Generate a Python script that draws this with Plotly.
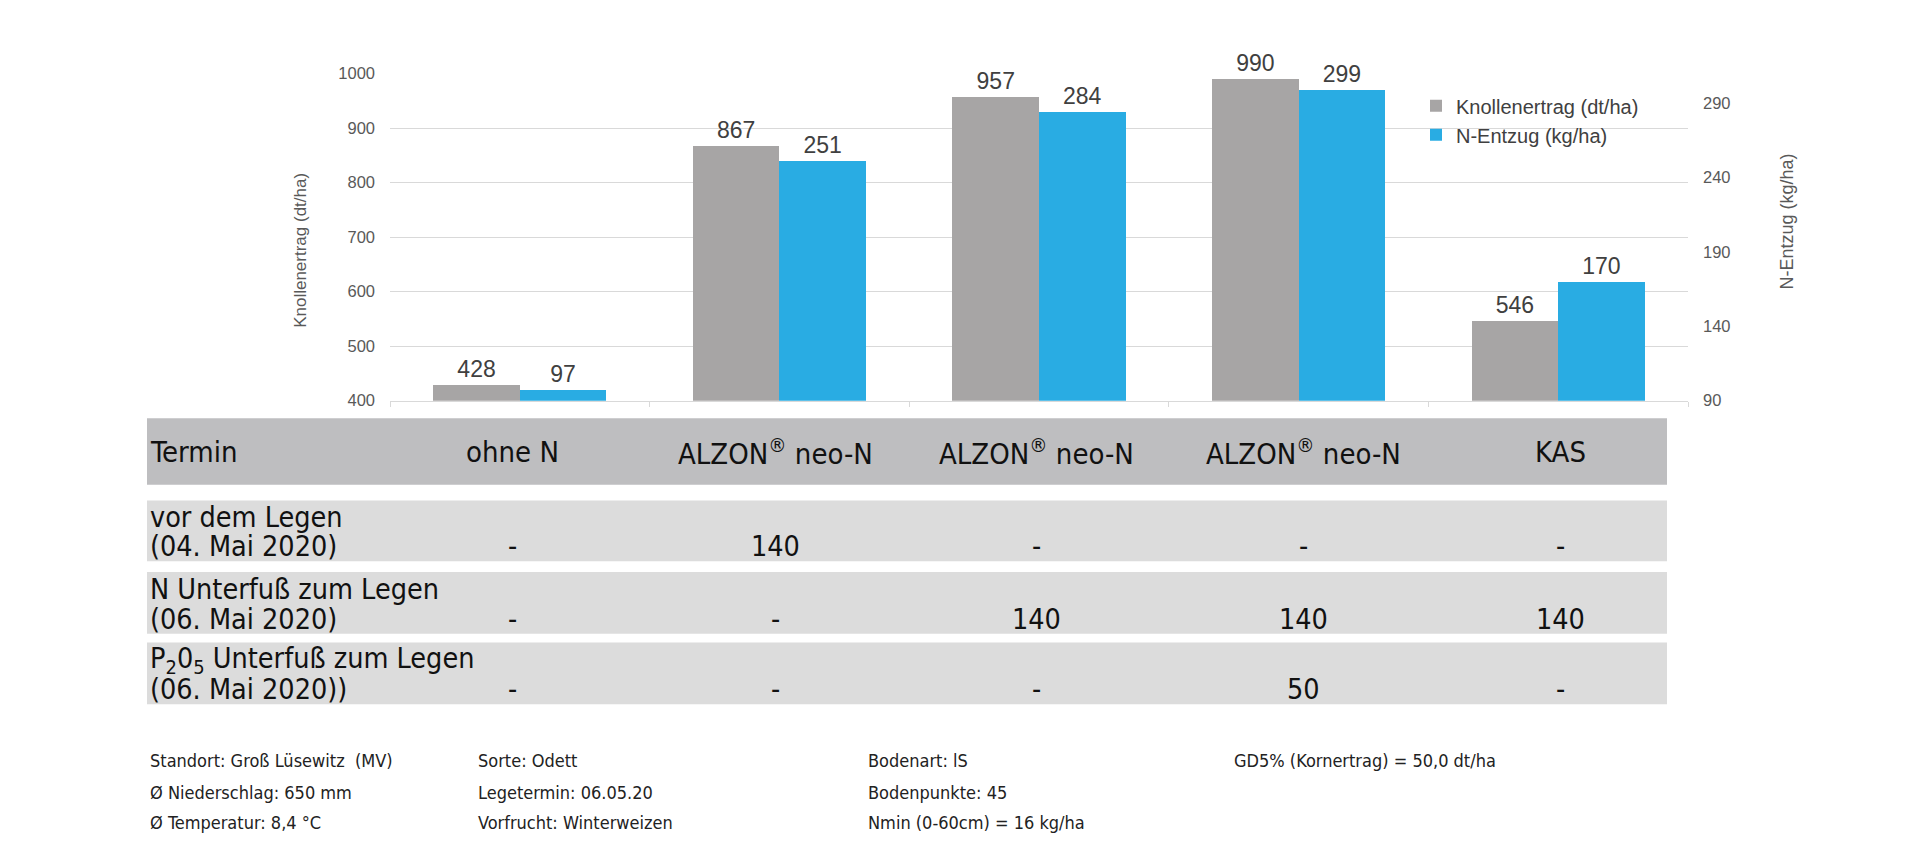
import plotly.graph_objects as go

# ---------------- data ----------------
categories = ["ohne N", "ALZON<sup>®</sup> neo-N", "ALZON<sup>®</sup> neo-N", "ALZON<sup>®</sup> neo-N", "KAS"]
knollenertrag = [428, 867, 957, 990, 546]      # dt/ha (left axis)
n_entzug = [97, 251, 284, 299, 170]            # kg/ha (right axis)

left_ticks = [400, 500, 600, 700, 800, 900, 1000]
right_ticks = [90, 140, 190, 240, 290]

header_label = "Termin"
row_labels = [
    ["vor dem Legen", "(04. Mai 2020)"],
    ["N Unterfuß zum Legen", "(06. Mai 2020)"],
    ["P<sub>2</sub>0<sub>5</sub> Unterfuß zum Legen", "(06. Mai 2020))"],
]
table_values = [
    ["-", "140", "-", "-", "-"],
    ["-", "-", "140", "140", "140"],
    ["-", "-", "-", "50", "-"],
]

footnotes = [
    ["Standort: Groß Lüsewitz\u00a0 (MV)", "Ø Niederschlag: 650 mm", "Ø Temperatur: 8,4 °C"],
    ["Sorte: Odett", "Legetermin: 06.05.20", "Vorfrucht: Winterweizen"],
    ["Bodenart: lS", "Bodenpunkte: 45", "Nmin (0-60cm) = 16 kg/ha"],
    ["GD5% (Kornertrag) = 50,0 dt/ha"],
]

# ---------------- styling / layout ----------------
W, H = 1920, 863
GREY = "#A7A5A5"
BLUE = "#29ACE3"
GRID = "#D9D9D9"
AXTXT = "#595959"
ARIAL = "Liberation Sans, Arial, sans-serif"
NARROW = "DejaVu Sans Condensed, Liberation Sans Narrow, sans-serif"

def px(x):
    return x / W

def py(y):
    return (H - y) / H

x_pos = list(range(len(categories)))
col_shift = [-0.03, -0.015, -0.01, 0.02, 0.01]   # small horizontal nudges of table columns

fig = go.Figure()
fig.add_trace(go.Bar(
    x=x_pos, y=knollenertrag, name="Knollenertrag (dt/ha)",
    marker=dict(color=GREY, line=dict(width=0)),
    width=1/3, offset=-1/3,
    text=knollenertrag, texttemplate="%{text}", textposition="outside",
    textfont=dict(family=ARIAL, size=23, color="#404040"),
    cliponaxis=False, yaxis="y", hoverinfo="skip",
))
fig.add_trace(go.Bar(
    x=x_pos, y=n_entzug, name="N-Entzug (kg/ha)",
    marker=dict(color=BLUE, line=dict(width=0)),
    width=1/3, offset=0,
    text=n_entzug, texttemplate="%{text}", textposition="outside",
    textfont=dict(family=ARIAL, size=23, color="#404040"),
    cliponaxis=False, yaxis="y2", hoverinfo="skip",
))

ann = []
# axis titles
ann.append(dict(x=px(301), y=py(247), xref="paper", yref="paper", text="Knollenertrag (dt/ha)",
                textangle=-90, showarrow=False, xanchor="center", yanchor="middle",
                font=dict(family=ARIAL, size=17, color=AXTXT)))
ann.append(dict(x=px(1787), y=py(217), xref="paper", yref="paper", text="N-Entzug (kg/ha)",
                textangle=-90, showarrow=False, xanchor="center", yanchor="middle",
                font=dict(family=ARIAL, size=18, color=AXTXT)))

shapes = []
# table header band
TBL_L, TBL_R = 147, 1667
shapes.append(dict(type="rect", xref="paper", yref="paper", x0=px(TBL_L), x1=px(TBL_R),
                   y0=py(486), y1=py(418), fillcolor="#BEBEC0", line=dict(width=0), layer="below"))
row_bands = [(502, 564), (575, 638), (647, 710)]
for (t, b) in row_bands:
    shapes.append(dict(type="rect", xref="paper", yref="paper", x0=px(TBL_L), x1=px(TBL_R),
                       y0=py(b), y1=py(t), fillcolor="#DCDCDC", line=dict(width=0), layer="below"))

TFONT = dict(family=NARROW, size=28.5, color="#111111")
HFONT = dict(family=NARROW, size=29, color="#111111")
LBL_X = 148
ann.append(dict(x=px(LBL_X), y=py(452), xref="paper", yref="paper", text=header_label,
                xanchor="left", yanchor="middle", showarrow=False, font=HFONT))
for i, c in enumerate(categories):
    ann.append(dict(x=i + col_shift[i], y=py(452), xref="x", yref="paper", text=c,
                    xanchor="center", yanchor="middle", showarrow=False, font=HFONT))

for r, (t, b) in enumerate(row_bands):
    l1, l2 = row_labels[r]
    ann.append(dict(x=px(LBL_X), y=py(b - 45), xref="paper", yref="paper", text=l1,
                    xanchor="left", yanchor="middle", showarrow=False, font=TFONT))
    ann.append(dict(x=px(LBL_X), y=py(b - 15), xref="paper", yref="paper", text=l2,
                    xanchor="left", yanchor="middle", showarrow=False, font=TFONT))
    for i, v in enumerate(table_values[r]):
        ann.append(dict(x=i + col_shift[i], y=py(b - 15), xref="x", yref="paper", text=v,
                        xanchor="center", yanchor="middle", showarrow=False, font=TFONT))

# footnotes
foot_x = [148, 476, 866, 1232]
foot_y = [767, 800, 831]
for c, lines in enumerate(footnotes):
    for j, line in enumerate(lines):
        ann.append(dict(x=px(foot_x[c]), y=py(foot_y[j]), xref="paper", yref="paper", text=line,
                        xanchor="left", yanchor="middle", showarrow=False,
                        font=dict(family=NARROW, size=18, color="#222222")))

fig.update_layout(
    width=W, height=H,
    margin=dict(l=0, r=0, t=0, b=0),
    paper_bgcolor="white", plot_bgcolor="white",
    showlegend=True,
    legend=dict(x=px(1416), y=py(79), xanchor="left", yanchor="top",
                font=dict(family=ARIAL, size=20, color="#404040"),
                bgcolor="rgba(0,0,0,0)", itemwidth=30, tracegroupgap=0),
    xaxis=dict(domain=[px(390), px(1688)], range=[-0.5, 4.5],
               tickvals=[i - 0.5 for i in range(len(categories) + 1)],
               showticklabels=False, ticks="outside", ticklen=5, tickcolor=GRID,
               showline=True, linecolor=GRID, linewidth=1, showgrid=False, zeroline=False,
               fixedrange=True),
    yaxis=dict(domain=[py(400), py(66)], range=[400, 1000], tickvals=left_ticks,
               showgrid=True, gridcolor=GRID, gridwidth=1, zeroline=False, showline=False,
               tickfont=dict(family=ARIAL, size=16.5, color=AXTXT), ticklabelstandoff=14),
    yaxis2=dict(overlaying="y", side="right", range=[90, 310], tickvals=right_ticks,
                showgrid=False, zeroline=False, showline=False,
                tickfont=dict(family=ARIAL, size=16.5, color=AXTXT), ticklabelstandoff=14),
    annotations=ann, shapes=shapes,
    bargap=0, barmode="overlay",
)

fig.write_html("out.html", config={"displayModeBar": False, "staticPlot": True},
               post_script="document.body.style.margin='0px';document.body.style.overflow='hidden';")
